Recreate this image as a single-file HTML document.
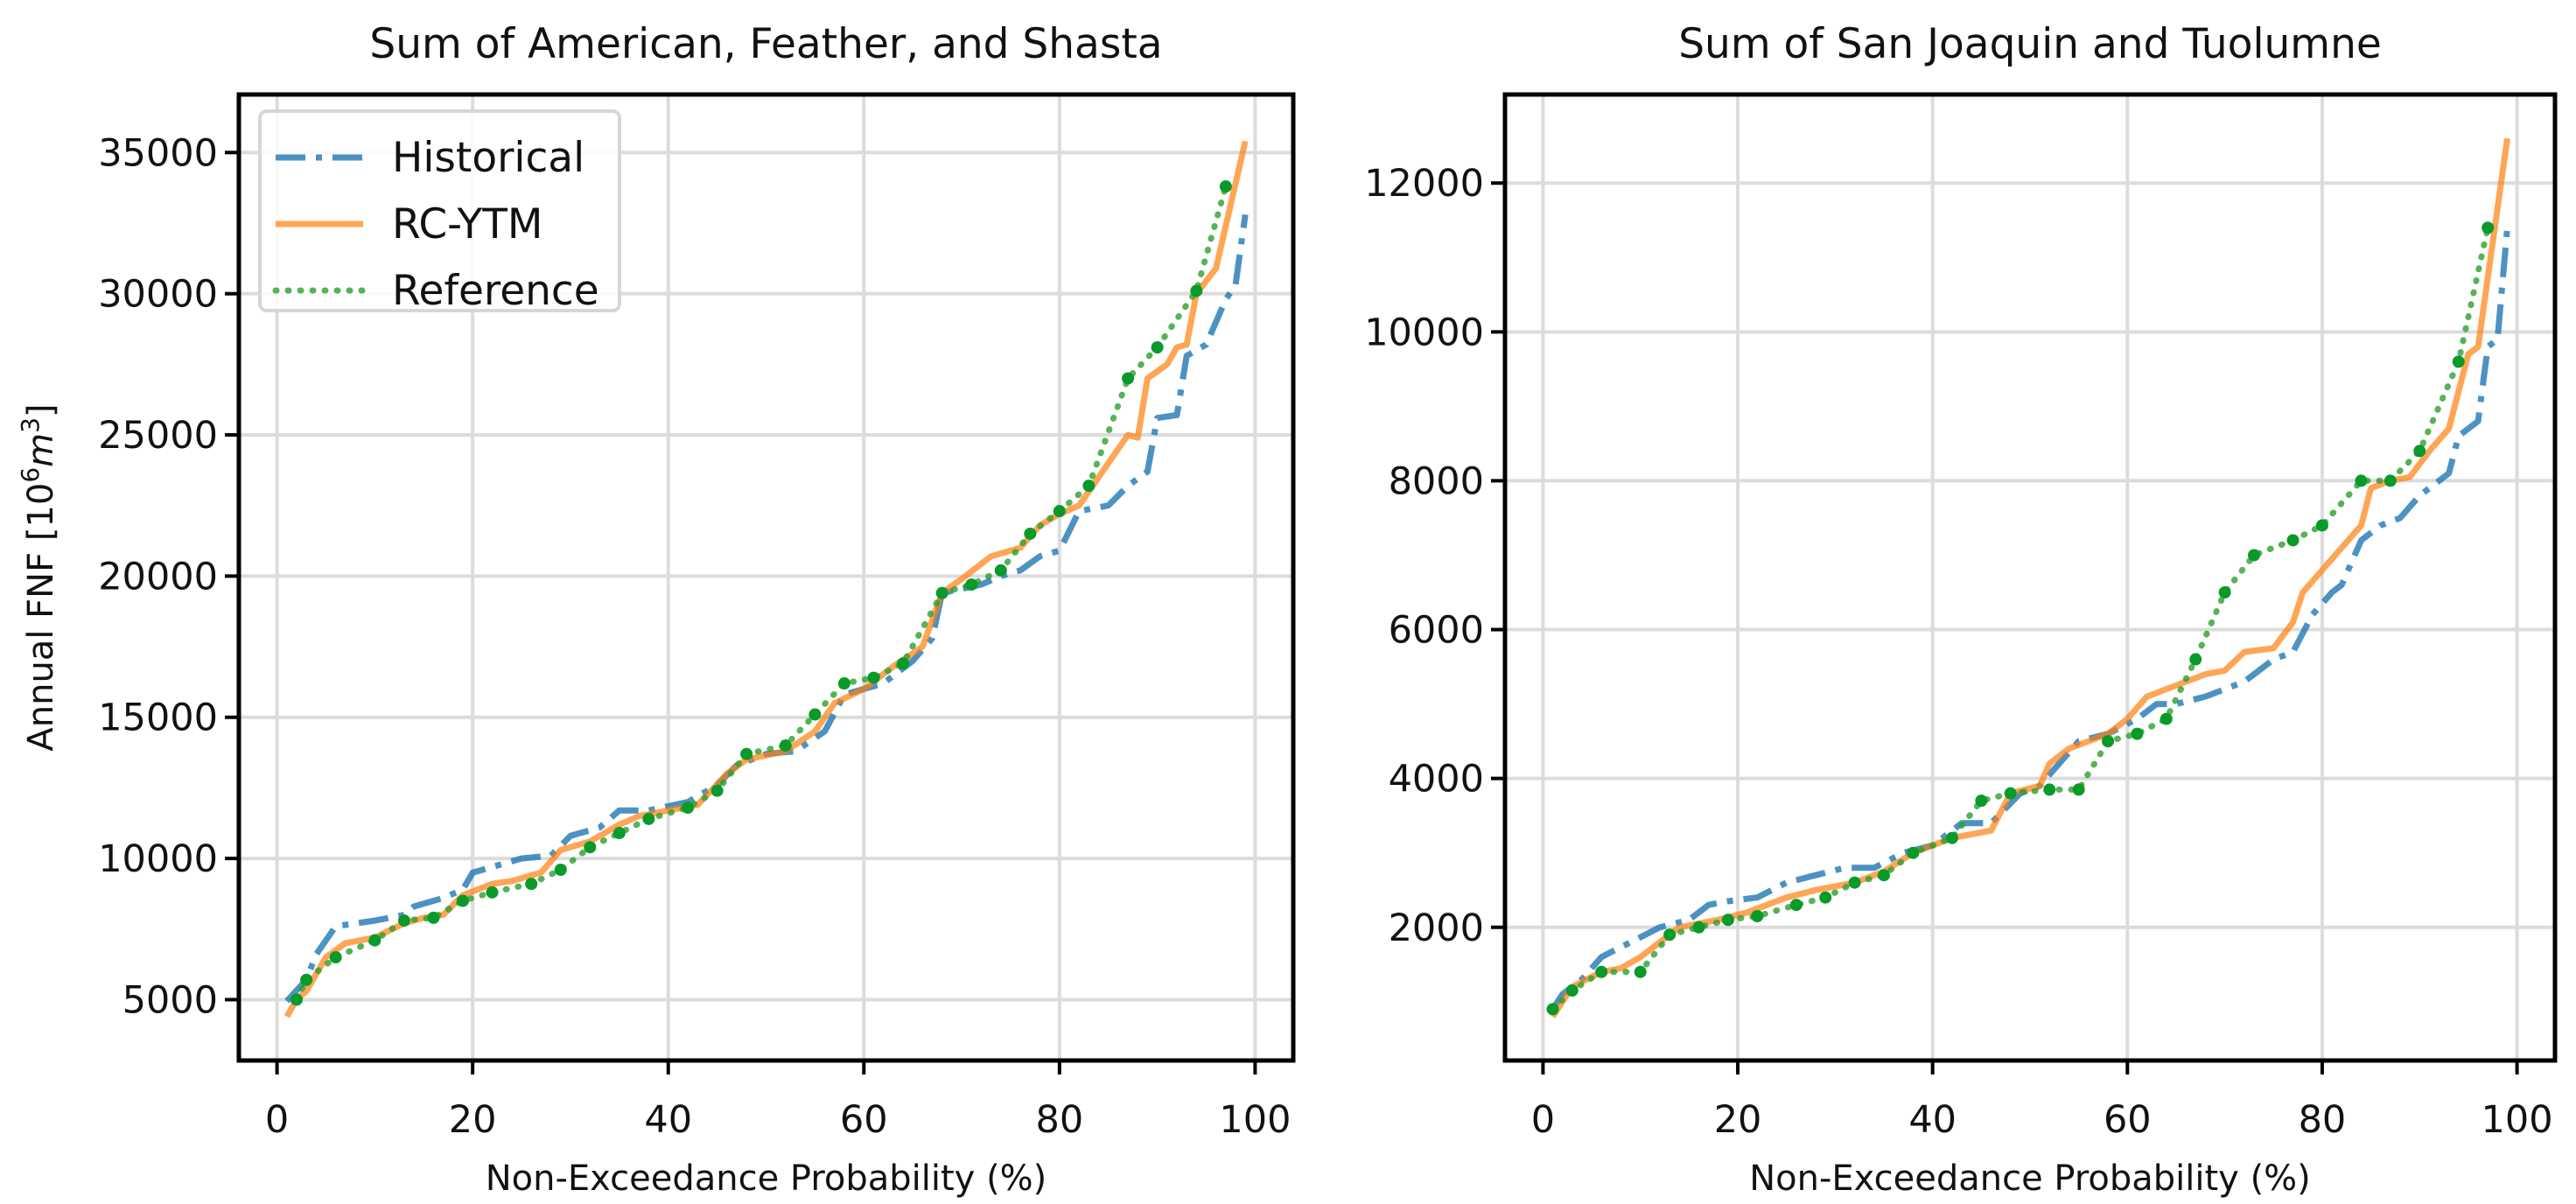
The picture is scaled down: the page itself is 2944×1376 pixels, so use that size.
<!DOCTYPE html>
<html><head><meta charset="utf-8"><style>
html,body{margin:0;padding:0;background:#fff;}
svg{display:block;font-family:"DejaVu Sans","Liberation Sans",sans-serif;}
</style></head><body>
<svg id="chart" width="2944" height="1376" viewBox="0 0 2944 1376" xmlns="http://www.w3.org/2000/svg"></svg>
<script>
// ---- data: left panel (American, Feather, Shasta) ----
const leftHistX=[1,3,4,6,10,13,14,17,19,20,23,25,28,30,33,35,38,42,45,47,50,53,56,58,62,65,67,68,72,74,76,78,80,82,85,87,89,90,92,93,95,97,98,99];
const leftHistY=[4950,5700,6600,7600,7800,8000,8300,8600,8900,9500,9800,10000,10100,10800,11100,11700,11700,12000,12600,13300,13700,13800,14500,15800,16200,17000,17800,19400,19700,20000,20200,20700,20900,22300,22500,23200,23700,25600,25700,27800,28200,29800,30300,32800];
const leftRcX=[1,2,3,5,7,10,13,15,17,19,22,24,27,29,32,35,37,40,43,46,48,52,55,57,60,63,66,68,70,73,76,78,80,82,85,87,88,89,91,92,93,94,96,99];
const leftRcY=[4400,5000,5300,6500,7000,7200,7700,7900,8000,8700,9100,9200,9500,10300,10600,11200,11500,11700,11900,13000,13500,13800,14500,15500,16000,16800,17500,19400,19900,20700,21000,21800,22200,22500,24000,25000,24900,27000,27500,28100,28200,30000,30900,35400];
const leftRefX=[2,3,6,10,13,16,19,22,26,29,32,35,38,42,45,48,52,55,58,61,64,68,71,74,77,80,83,87,90,94,97];
const leftRefY=[5000,5700,6500,7100,7800,7900,8500,8800,9100,9600,10400,10900,11400,11800,12400,13700,14000,15100,16200,16400,16900,19400,19700,20200,21500,22300,23200,27000,28100,30100,33800];
const leftYTicks=[5000,10000,15000,20000,25000,30000,35000];
// ---- data: right panel (San Joaquin, Tuolumne) ----
const rightHistX=[1,2,4,6,9,12,15,17,19,22,25,28,31,34,37,40,43,46,49,51,53,55,58,61,63,65,68,70,72,75,77,79,81,82,84,86,88,90,91,93,94,96,97,98,99];
const rightHistY=[900,1100,1300,1600,1800,2000,2100,2300,2350,2400,2600,2700,2800,2800,3000,3100,3400,3400,3800,3900,4200,4500,4600,4800,5000,5000,5100,5200,5300,5600,5700,6200,6500,6600,7200,7400,7500,7800,7900,8100,8600,8800,9800,9900,11400];
const rightRcX=[1,3,6,8,10,12,14,18,21,25,28,32,35,38,42,46,48,51,52,54,56,58,60,62,64,66,68,70,72,75,77,78,80,82,84,85,87,89,91,93,95,96,99];
const rightRcY=[800,1200,1400,1450,1600,1800,2000,2100,2200,2400,2500,2600,2750,3000,3200,3300,3800,3900,4200,4400,4500,4600,4800,5100,5200,5300,5400,5450,5700,5750,6100,6500,6800,7100,7400,7900,8000,8050,8400,8700,9700,9800,12600];
const rightRefX=[1,3,6,10,13,16,19,22,26,29,32,35,38,42,45,48,52,55,58,61,64,67,70,73,77,80,84,87,90,94,97];
const rightRefY=[900,1150,1400,1400,1900,2000,2100,2150,2300,2400,2600,2700,3000,3200,3700,3800,3850,3850,4500,4600,4800,5600,6500,7000,7200,7400,8000,8000,8400,9600,11400];
const rightYTicks=[2000,4000,6000,8000,10000,12000];
const xTicks=[0,20,40,60,80,100];

const NS="http://www.w3.org/2000/svg";
const svg=document.getElementById('chart');
function mk(tag,attrs,parent){const e=document.createElementNS(NS,tag);for(const k in attrs)e.setAttribute(k,attrs[k]);(parent||svg).appendChild(e);return e;}

const HDASH='34 12 7 12', RDASH='1 13';
function panel(cfg){
  const {x0,x1,y0,y1,ymin,ymax,title,yTicks,series,name}=cfg;
  const xmin=-3.9,xmax=103.9;
  const sx=v=>x0+(v-xmin)/(xmax-xmin)*(x1-x0);
  const sy=v=>y1-(v-ymin)/(ymax-ymin)*(y1-y0);
  const g=mk('g',{});
  
  
  xTicks.forEach(t=>{
    const l=mk('line',{x1:sx(t),x2:sx(t),y1:y0,y2:y1,stroke:'#dcdcdc','stroke-width':4},g);
    
    
    mk('line',{x1:sx(t),x2:sx(t),y1:y1,y2:y1+16,stroke:'#000','stroke-width':4},g);
    const tx=mk('text',{x:sx(t),y:y1+82,'text-anchor':'middle','font-size':43,fill:'#111'},g);
    tx.textContent=t;
    
    
  });
  yTicks.forEach(t=>{
    const l=mk('line',{x1:x0,x2:x1,y1:sy(t),y2:sy(t),stroke:'#dcdcdc','stroke-width':4},g);
    
    
    mk('line',{x1:x0-16,x2:x0,y1:sy(t),y2:sy(t),stroke:'#000','stroke-width':4},g);
    const tx=mk('text',{x:x0-24,y:sy(t)+15,'text-anchor':'end','font-size':43,fill:'#111'},g);
    tx.textContent=t;
    
    
  });
  series.forEach(s=>{
    const pts=s.xs.map((v,i)=>sx(v).toFixed(1)+','+sy(s.ys[i]).toFixed(1)).join(' ');
    const p=mk('polyline',{points:pts,fill:'none',stroke:s.color,'stroke-width':7,'stroke-dasharray':s.dash||'none','stroke-linejoin':'round','stroke-linecap':s.cap||'butt',opacity:s.op},g);
    
    
    if(s.dots){s.xs.forEach((v,i)=>{
      const c=mk('circle',{cx:sx(v),cy:sy(s.ys[i]),r:7,fill:'#0a9a2a'},g);
      
      
    });}
  });
  const fr=mk('rect',{x:x0,y:y0,width:x1-x0,height:y1-y0,fill:'none',stroke:'#000','stroke-width':5},g);
  
  
  const tt=mk('text',{x:(x0+x1)/2,y:66,'text-anchor':'middle','font-size':47,fill:'#111'},g);
  tt.textContent=title;
  
  
  const xl=mk('text',{x:(x0+x1)/2,y:1360,'text-anchor':'middle','font-size':40,fill:'#111'},g);
  xl.textContent='Non-Exceedance Probability (%)';
  
  
}
const BLUE='#1f77b4',ORANGE='#ff7f0e',GREEN='#2ca02c';
panel({name:'left-panel',x0:273,x1:1478,y0:108,y1:1212,ymin:2845,ymax:37055,title:'Sum of American, Feather, and Shasta',yTicks:leftYTicks,
  series:[{name:'historical-line',xs:leftHistX,ys:leftHistY,color:BLUE,op:0.8,dash:HDASH},
          {name:'rc-ytm-line',xs:leftRcX,ys:leftRcY,color:ORANGE,op:0.7},
          {name:'reference-line',xs:leftRefX,ys:leftRefY,color:GREEN,op:0.8,dash:RDASH,cap:'round',dots:true}]});
panel({name:'right-panel',x0:1720,x1:2920,y0:108,y1:1212,ymin:210,ymax:13190,title:'Sum of San Joaquin and Tuolumne',yTicks:rightYTicks,
  series:[{name:'historical-line',xs:rightHistX,ys:rightHistY,color:BLUE,op:0.8,dash:HDASH},
          {name:'rc-ytm-line',xs:rightRcX,ys:rightRcY,color:ORANGE,op:0.7},
          {name:'reference-line',xs:rightRefX,ys:rightRefY,color:GREEN,op:0.8,dash:RDASH,cap:'round',dots:true}]});
// y-axis title
const yl=mk('text',{x:0,y:0,'text-anchor':'middle','font-size':40,fill:'#111',transform:'translate(60,660) rotate(-90)'});
yl.innerHTML='Annual FNF [10<tspan baseline-shift="super" font-size="28">6</tspan><tspan font-style="italic">m</tspan><tspan baseline-shift="super" font-size="28">3</tspan>]';


// legend
const lg=mk('g',{});


mk('rect',{x:297,y:127,width:411,height:228,rx:8,fill:'#fff','fill-opacity':0.85,stroke:'#d6d6d6','stroke-width':4},lg);
const items=[['Historical',BLUE,0.8,HDASH,'butt'],['RC-YTM',ORANGE,0.7,'none','butt'],['Reference',GREEN,0.8,RDASH,'round']];
items.forEach((it,i)=>{
  const y=180+i*76;
  const ln=mk('line',{x1:315,x2:415,y1:y,y2:y,stroke:it[1],'stroke-width':7,opacity:it[2],'stroke-dasharray':it[3],'stroke-linecap':it[4]},lg);
  
  
  const t=mk('text',{x:448,y:y+16,'font-size':47,fill:'#111'},lg);
  t.textContent=it[0];
  
  
});
</script>
</body></html>
